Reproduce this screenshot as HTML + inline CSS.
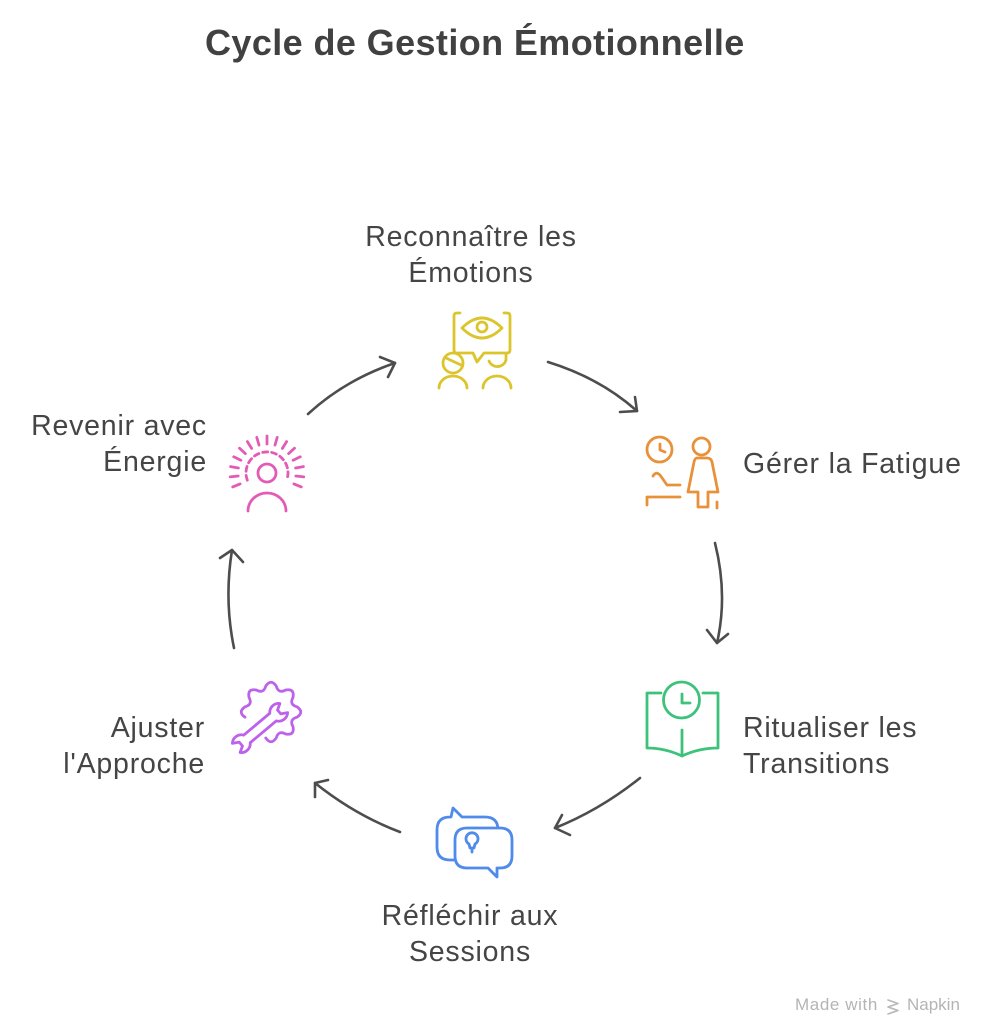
<!DOCTYPE html>
<html><head><meta charset="utf-8">
<style>
html,body{margin:0;padding:0;background:#fff;}
body{width:994px;height:1024px;position:relative;overflow:hidden;font-family:"Liberation Sans",Arial,sans-serif;color:#454545;}
.t{position:absolute;left:205px;top:19px;font-size:36px;font-weight:bold;letter-spacing:0.4px;white-space:nowrap;color:#414141;line-height:48px;}
.l{position:absolute;font-size:28.5px;line-height:36px;letter-spacing:0.8px;white-space:nowrap;}
.c{text-align:center;width:320px;}
.r{text-align:right;}
.wm{position:absolute;top:995px;font-size:17px;color:#b4b4b4;white-space:nowrap;}
svg{position:absolute;left:0;top:0;}
</style></head><body>
<div class="t">Cycle de Gestion Émotionnelle</div>

<div class="l c" style="left:311px;top:219px;">Reconnaître les<br>Émotions</div>
<div class="l" style="left:743px;top:446px;">Gérer la Fatigue</div>
<div class="l" style="left:743px;top:710px;">Ritualiser les<br>Transitions</div>
<div class="l c" style="left:310px;top:898px;">Réfléchir aux<br>Sessions</div>
<div class="l r" style="right:789px;top:710px;">Ajuster<br>l'Approche</div>
<div class="l r" style="right:787px;top:408px;">Revenir avec<br>Énergie</div>

<svg width="994" height="1024" viewBox="0 0 994 1024" fill="none" stroke-linecap="round" stroke-linejoin="round">
 <!-- arrows -->
 <g stroke="#4d4d4d" stroke-width="2.6">
  <path d="M308,414 Q345,380 395,363"/><path d="M380,357 L395,363 L388,377"/>
  <path d="M548,362 Q600,378 637,411"/><path d="M620,412 L637,411 L635,397"/>
  <path d="M715,543 Q728,595 717,643"/><path d="M707,630 L717,643 L728,634"/>
  <path d="M640,778 Q600,810 555,828"/><path d="M562,815 L555,828 L570,835"/>
  <path d="M400,832 Q355,815 315,783"/><path d="M315,797 L315,783 L328,780"/>
  <path d="M234,648 Q224,600 232,550"/><path d="M220,558 L232,550 L243,562"/>
 </g>

 <!-- yellow: recognize emotions -->
 <g stroke="#DCC52C" stroke-width="2.8">
  <path d="M460,313 L457,313 Q454,313 454,316 L454,350 Q454,353 457,353 L473,353 L477,362 L484,353 L507,353 Q510,353 510,350 L510,316 Q510,313 507,313 L504,313"/>
  <path d="M462,328 Q482,308 502,328 Q482,348 462,328 Z"/>
  <circle cx="482" cy="327" r="5"/>
  <circle cx="453" cy="363" r="10"/>
  <path d="M446,358 L461,365"/>
  <path d="M439,388 A14,12 0 0 1 467,388"/>
  <path d="M489,361 A9,9 0 0 0 506,360 L506,355"/>
  <path d="M483,388 A14,12 0 0 1 511,388"/>
 </g>

 <!-- orange: manage fatigue -->
 <g stroke="#E8913A" stroke-width="2.8">
  <circle cx="659.5" cy="449.5" r="12.5"/>
  <path d="M660,444 L660,450 L665,452"/>
  <circle cx="701.5" cy="446.5" r="8.5"/>
  <path d="M697,458 L707,458 Q711,458 712,462 L718,492 L708,492 L708,507 L698,507 L698,492 L688,492 L694,462 Q695,458 697,458 Z"/>
  <path d="M717,502 L717,508"/>
  <path d="M653,476 Q656,471 660,475 L667,485 L680,485"/>
  <path d="M647,505 L647,497 L680,497"/>
 </g>

 <!-- green: ritualize transitions -->
 <g stroke="#3DC27A" stroke-width="2.8">
  <circle cx="681.5" cy="700" r="18"/>
  <path d="M682,694 L682,703 L690,703"/>
  <path d="M661,693 L647,693 L647,748 Q665,748 682,756 Q699,748 718,748 L718,693 L703,693"/>
  <path d="M682,730 L682,756"/>
 </g>

 <!-- blue: reflect on sessions -->
 <g stroke="#4F8BEA" stroke-width="2.8">
  <path d="M437,830 Q437,817 450,817 L451,817 L453,808 L462,817 L485,817 Q498,817 498,830 L498,847 Q498,860 485,860 L450,860 Q437,860 437,847 Z"/>
  <path fill="#fff" d="M467,828 L500,828 Q512,828 512,840 L512,856 Q512,868 500,868 L497,868 L497,877 L488,868 L467,868 Q455,868 455,856 L455,840 Q455,828 467,828 Z"/>
  <path d="M469,844 A6,6 0 1 1 475,844 L474,848 L470,848 Z"/>
  <path d="M472,848 L472,852"/>
 </g>

 <!-- purple: adjust approach -->
 <g stroke="#BD62EA" stroke-width="2.8">
  <path d="M265.8,738.0 Q271,745.5 276.2,738.0 Q278.5,730.0 285.7,734.0 Q294.7,735.7 293.0,726.7 Q289.0,719.5 297.0,717.2 Q304.5,712 297.0,706.8 Q289.0,704.5 293.0,697.3 Q294.7,688.3 285.7,690.0 Q278.5,694.0 276.2,686.0 Q271,678.5 265.8,686.0 Q263.5,694.0 256.3,690.0 Q247.3,688.3 249.0,697.3 Q253.0,704.5 245.0,706.8 Q237.5,712 245.0,717.2"/>
  <path fill="#fff" transform="translate(260,728) rotate(-40)" d="M-17,-5 L17,-5 A9,9 0 0 1 31,-6 L25,-2.5 L25,2.5 L31,6 A9,9 0 0 1 17,5 L-17,5 A9,9 0 0 1 -31,6 L-25,2.5 L-25,-2.5 L-31,-6 A9,9 0 0 1 -17,-5 Z"/>
 </g>

 <!-- pink: return with energy -->
 <g stroke="#E45BB6" stroke-width="2.8">
  <circle cx="267" cy="473" r="9"/>
  <path d="M248,511 A19,18 0 0 1 286,511"/>
  <path d="M247.3,480.2 A21,21 0 1 1 286.7,480.2" stroke-dasharray="5 4"/>
  <path d="M240.1,483.9 L232.7,486.9 M238.2,476.0 L230.2,476.9 M238.4,468.0 L230.6,466.6 M240.9,460.3 L233.7,456.8 M245.4,453.6 L239.5,448.2 M251.6,448.4 L247.4,441.6 M259.0,445.1 L256.8,437.4 M267,444 L267,436 M275.0,445.1 L277.2,437.4 M282.4,448.4 L286.6,441.6 M288.6,453.6 L294.5,448.2 M293.1,460.3 L300.3,456.8 M295.6,468.0 L303.4,466.6 M295.8,476.0 L303.8,476.9 M293.9,483.9 L301.3,486.9"/>
 </g>

 <!-- napkin logo -->
 <g stroke="#b8b8b8" stroke-width="1.6">
  <path d="M888,1000 L898,1003.5 L888,1007 L898,1010.5 L888,1014"/>
 </g>
</svg>
<div class="wm" style="left:795px;letter-spacing:0.6px;">Made with</div>
<div class="wm" style="left:907px;">Napkin</div>
</body></html>
